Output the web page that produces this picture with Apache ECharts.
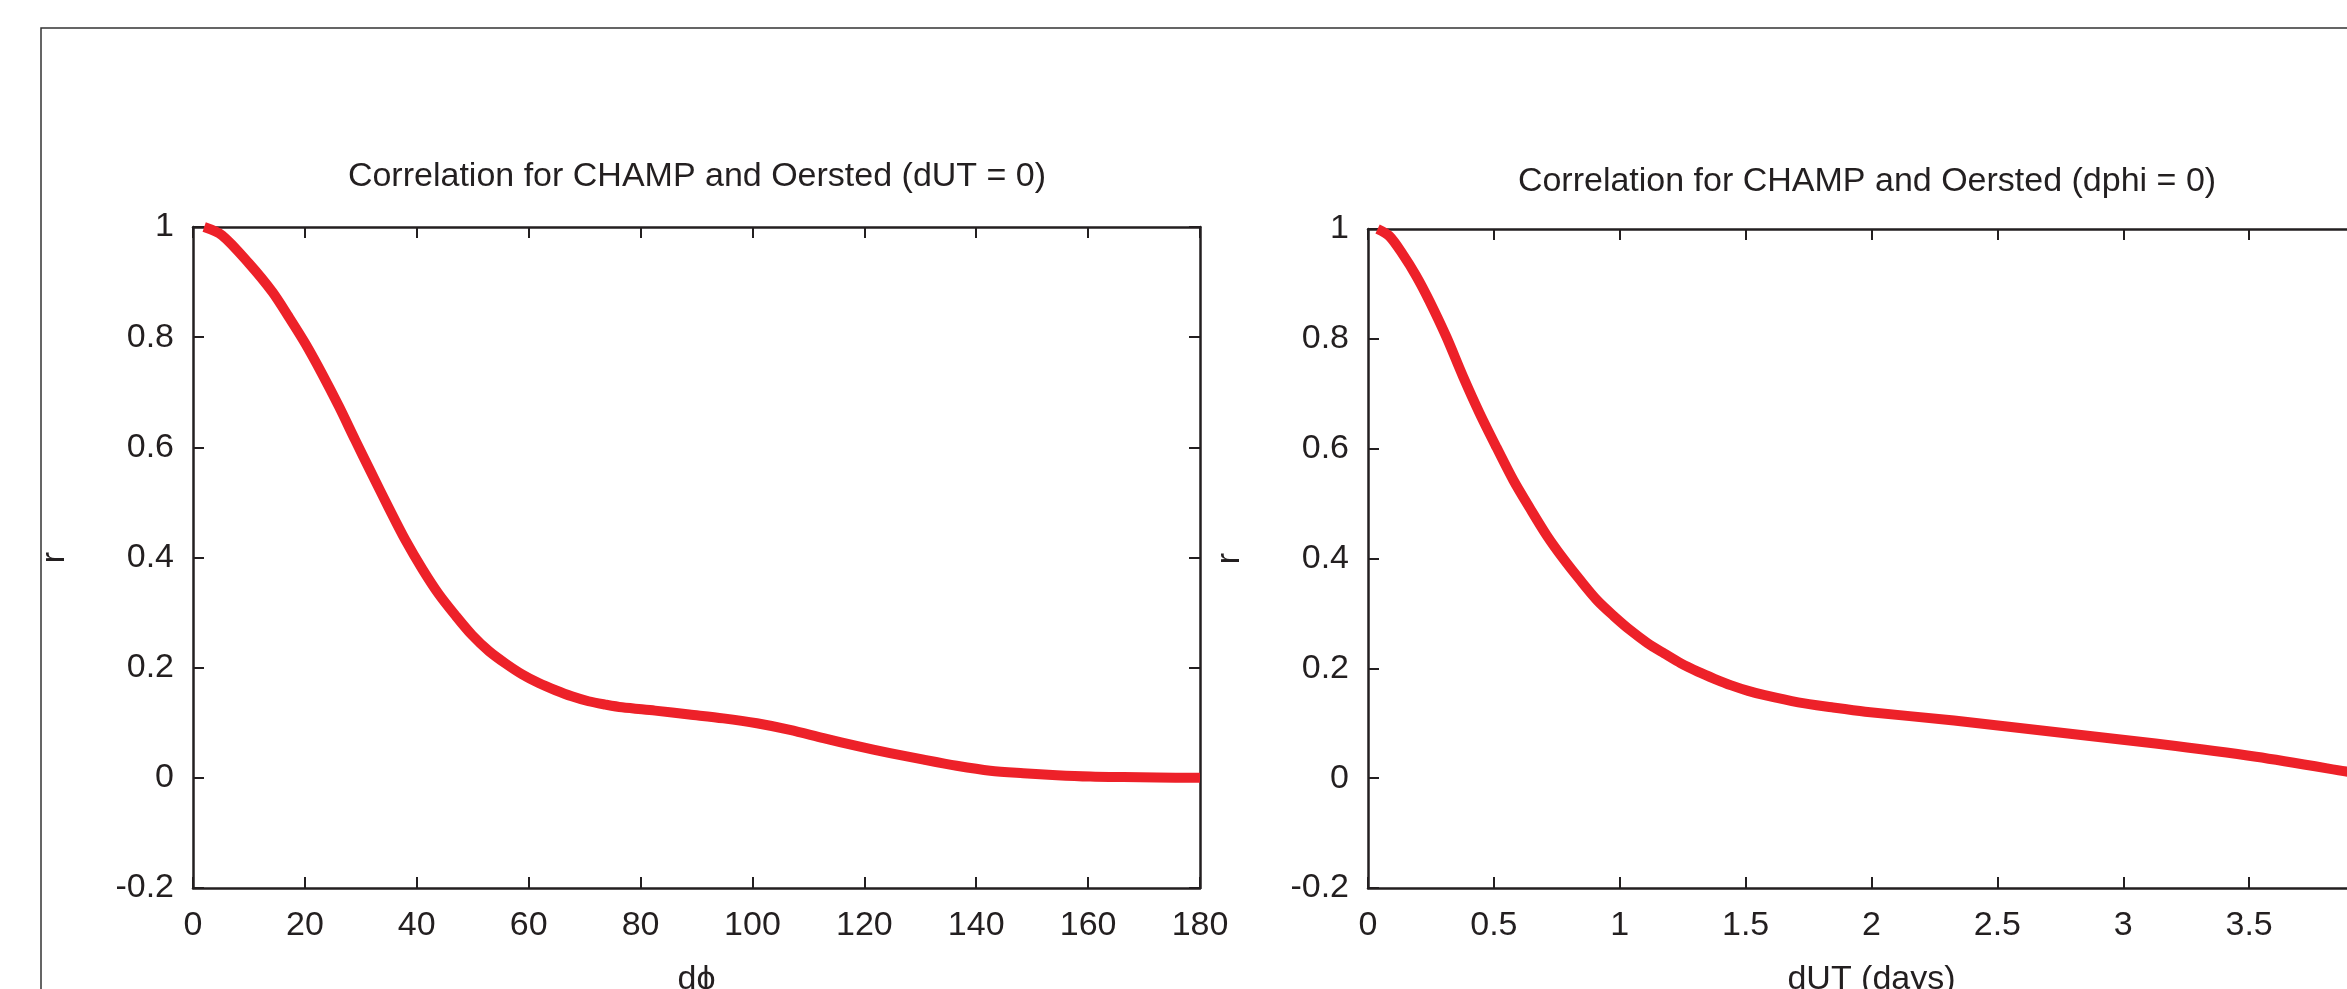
<!DOCTYPE html>
<html>
<head>
<meta charset="utf-8">
<script src="https://cdn.jsdelivr.net/npm/echarts@6/dist/echarts.min.js"></script>
<style>
  html, body { margin: 0; padding: 0; background: #fff; overflow: hidden; }
  #main { width: 2347px; height: 989px; }
</style>
</head>
<body>
<div id="main"></div>
<script>
// left panel: r vs dphi (dUT = 0)
var dphi = [2, 5.2, 10, 14.2, 17.1, 20.1, 23.1, 26.1, 29, 32, 35, 38, 41, 43.9, 46.9, 49.9, 52.9, 55.8, 58.8, 61.8,
            64.8, 67.7, 70.7, 73.7, 76.7, 82.6, 88.7, 94.8, 100.8, 106.7, 112.7, 118.6, 124.6, 130.6, 136.5, 142.5,
            148.4, 154.4, 160.4, 166.3, 172.3, 180];
var rPhi = [1.0, 0.985, 0.934, 0.882, 0.837, 0.788, 0.733, 0.674, 0.613, 0.551, 0.49, 0.431, 0.379, 0.334, 0.295, 0.259,
            0.230, 0.208, 0.188, 0.172, 0.159, 0.148, 0.139, 0.133, 0.128, 0.122, 0.115, 0.108, 0.099, 0.087, 0.072, 0.058,
            0.045, 0.033, 0.022, 0.013, 0.0085, 0.0049, 0.0024, 0.0013, 0.0006, 0];

// right panel: r vs dUT (dphi = 0)
var dut = [0.038, 0.085, 0.138, 0.191, 0.244, 0.311, 0.377, 0.444, 0.511, 0.577, 0.644, 0.71, 0.777, 0.844, 0.91, 0.977,
           1.043, 1.11, 1.177, 1.243, 1.31, 1.376, 1.443, 1.51, 1.576, 1.709, 1.842, 1.975, 2.328, 2.728, 3.128, 3.528,
           3.916, 4.0];
var rUT = [1.0, 0.987, 0.954, 0.915, 0.869, 0.804, 0.732, 0.664, 0.602, 0.543, 0.491, 0.442, 0.399, 0.36, 0.324, 0.295,
           0.269, 0.246, 0.227, 0.209, 0.194, 0.181, 0.169, 0.159, 0.151, 0.138, 0.129, 0.121, 0.105, 0.084, 0.063, 0.039,
           0.0097, 0.003];

var titles = ['Correlation for CHAMP and Oersted (dUT = 0)', 'Correlation for CHAMP and Oersted (dphi = 0)'];
var xNames = ['d\u03d5', 'dUT (days)'];

const ink = '#231f20';
const red = '#ed2129';
const font = 'Liberation Sans, Arial, Helvetica, sans-serif';

function pairs(xs, ys) {
  return xs.map(function (x, i) { return [x, ys[i]]; });
}

function xAx(grid, max, interval, top, name) {
  return {
    type: 'value', gridIndex: grid, min: 0, max: max, interval: interval,
    position: top ? 'top' : 'bottom',
    name: top ? '' : name, nameLocation: 'middle', nameGap: 75,
    nameTextStyle: { color: ink, fontSize: 34, fontFamily: font },
    axisLine: { onZero: false, lineStyle: { color: ink, width: 2.5 } },
    axisTick: { inside: true, length: 11, lineStyle: { color: ink, width: 2 } },
    axisLabel: { show: !top, color: ink, fontSize: 34, fontFamily: font, margin: 21 },
    splitLine: { show: false }
  };
}

function yAx(grid, right) {
  return {
    type: 'value', gridIndex: grid, min: -0.2, max: 1, interval: 0.2,
    position: right ? 'right' : 'left',
    name: right ? '' : 'r', nameLocation: 'middle', nameGap: 121,
    nameTextStyle: { color: ink, fontSize: 34, fontFamily: font },
    axisLine: { onZero: false, lineStyle: { color: ink, width: 2.5 } },
    axisTick: { inside: true, length: 11, lineStyle: { color: ink, width: 2 } },
    axisLabel: { show: !right, color: ink, fontSize: 34, fontFamily: font, margin: 19 },
    splitLine: { show: false }
  };
}

var chart = echarts.init(document.getElementById('main'));
chart.setOption({
  backgroundColor: '#fff',
  animation: false,
  title: [
    { text: titles[0], left: 697, top: 160, textAlign: 'center', padding: 0,
      textStyle: { color: ink, fontSize: 34, fontWeight: 'normal', fontFamily: font } },
    { text: titles[1], left: 1867, top: 165, textAlign: 'center', padding: 0,
      textStyle: { color: ink, fontSize: 34, fontWeight: 'normal', fontFamily: font } }
  ],
  graphic: [{
    type: 'rect', silent: true, z: -1,
    shape: { x: 41, y: 28, width: 2400, height: 1000 },
    style: { fill: null, stroke: '#333', lineWidth: 1.5 }
  }],
  grid: [
    { left: 193, top: 227, width: 1007, height: 661, outerBoundsMode: 'none' },
    { left: 1368, top: 229, width: 1007, height: 659, outerBoundsMode: 'none' }
  ],
  xAxis: [
    xAx(0, 180, 20, false, xNames[0]),
    xAx(0, 180, 20, true),
    xAx(1, 4, 0.5, false, xNames[1]),
    xAx(1, 4, 0.5, true)
  ],
  yAxis: [yAx(0, false), yAx(0, true), yAx(1, false), yAx(1, true)],
  series: [
    {
      type: 'line', xAxisIndex: 0, yAxisIndex: 0, data: pairs(dphi, rPhi),
      showSymbol: false, smooth: 0.3, clip: false, z: 5,
      lineStyle: { color: red, width: 10, cap: 'butt', join: 'round' }
    },
    {
      type: 'line', xAxisIndex: 2, yAxisIndex: 2, data: pairs(dut, rUT),
      showSymbol: false, smooth: 0.3, clip: false, z: 5,
      lineStyle: { color: red, width: 10, cap: 'butt', join: 'round' }
    }
  ]
});
</script>
</body>
</html>
